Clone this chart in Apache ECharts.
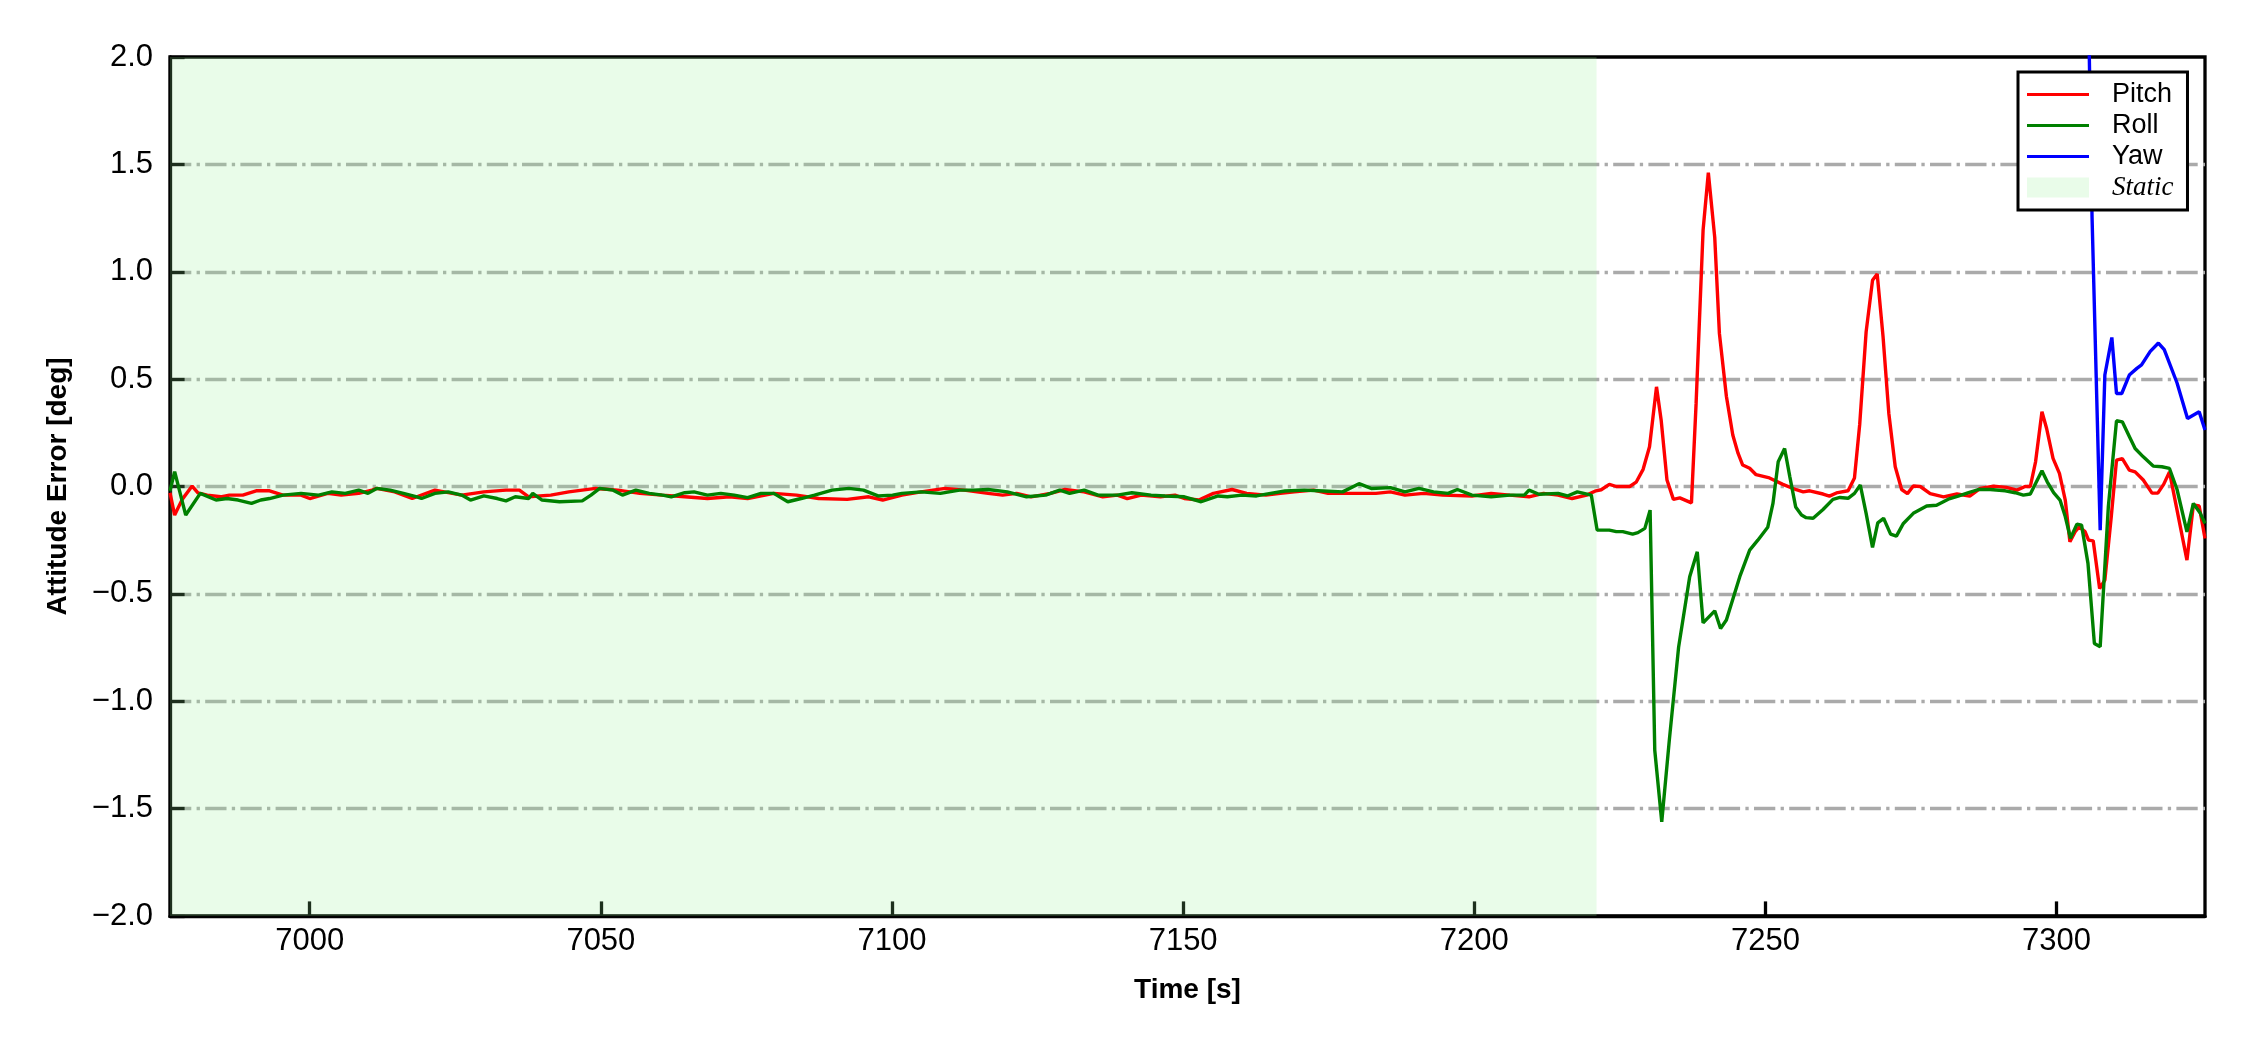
<!DOCTYPE html>
<html>
<head>
<meta charset="utf-8">
<script src="https://cdn.jsdelivr.net/npm/echarts@6/dist/echarts.min.js"></script>
<style>
html,body{margin:0;padding:0;background:#fff;}
#chart{width:2250px;height:1050px;}
</style>
</head>
<body>
<div id="chart"></div>
<script>
// ---- data ----
const xTicks = [7000, 7050, 7100, 7150, 7200, 7250, 7300];
const yTicks = [-2.0, -1.5, -1.0, -0.5, 0.0, 0.5, 1.0, 1.5, 2.0];
const staticStart = 6976;
const staticEnd = 7221;

const pitchTime = [6976.0,6976.8,6978.1,6979.8,6980.8,6982.4,6984.7,6986.2,6988.5,6990.8,6993.1,6995.4,6998.5,7000.0,7003.1,7005.4,7008.4,7010.7,7011.5,7014.6,7017.6,7021.5,7026.1,7029.9,7033.7,7036.0,7037.6,7041.4,7044.5,7049.1,7052.9,7056.7,7060.5,7064.4,7068.3,7072.1,7075.2,7079.7,7083.6,7087.4,7092.3,7096.0,7098.4,7101.7,7105.0,7109.1,7112.4,7116.5,7119.0,7121.4,7123.9,7127.2,7129.7,7133.0,7136.2,7138.7,7140.4,7142.8,7146.1,7148.6,7150.2,7152.7,7155.2,7158.4,7160.9,7164.2,7166.7,7169.1,7172.4,7174.9,7179.0,7183.1,7185.6,7188.1,7191.3,7194.6,7199.6,7202.9,7206.1,7209.4,7211.9,7214.4,7216.8,7219.3,7220.9,7221.8,7223.2,7224.4,7226.7,7227.8,7229.0,7230.1,7231.3,7232.1,7233.1,7234.2,7235.3,7237.3,7238.1,7239.3,7240.2,7241.3,7242.1,7243.3,7244.4,7245.3,7246.1,7247.3,7248.4,7250.7,7253.0,7255.3,7256.5,7257.6,7259.9,7261.0,7262.2,7264.2,7265.3,7266.2,7267.3,7268.4,7269.2,7270.2,7271.2,7272.3,7273.4,7274.4,7275.4,7276.6,7278.3,7280.6,7282.9,7285.1,7286.9,7289.2,7291.4,7293.2,7294.6,7295.5,7296.4,7297.5,7298.3,7299.4,7300.5,7301.5,7302.3,7303.2,7303.9,7304.9,7305.5,7306.3,7307.4,7308.3,7309.4,7310.3,7311.3,7312.5,7313.5,7314.9,7316.4,7317.4,7318.4,7319.4,7320.7,7322.4,7323.5,7324.5,7325.5];
const pitchErr = [-0.03,-0.133,-0.06,0.002,-0.03,-0.04,-0.048,-0.04,-0.04,-0.02,-0.02,-0.04,-0.04,-0.056,-0.032,-0.04,-0.032,-0.017,-0.009,-0.025,-0.056,-0.017,-0.04,-0.025,-0.017,-0.017,-0.048,-0.04,-0.025,-0.009,-0.017,-0.032,-0.04,-0.048,-0.056,-0.048,-0.056,-0.032,-0.04,-0.056,-0.06,-0.048,-0.063,-0.04,-0.025,-0.009,-0.017,-0.032,-0.04,-0.032,-0.048,-0.032,-0.014,-0.025,-0.048,-0.04,-0.056,-0.04,-0.048,-0.04,-0.056,-0.063,-0.032,-0.014,-0.032,-0.04,-0.032,-0.025,-0.017,-0.032,-0.032,-0.032,-0.025,-0.04,-0.032,-0.04,-0.044,-0.032,-0.04,-0.048,-0.032,-0.04,-0.056,-0.04,-0.02,-0.015,0.01,0.0,0.0,0.02,0.08,0.185,0.464,0.309,0.03,-0.06,-0.053,-0.076,0.387,1.194,1.461,1.16,0.713,0.42,0.24,0.155,0.1,0.085,0.055,0.04,0.01,-0.015,-0.025,-0.02,-0.035,-0.045,-0.03,-0.02,0.04,0.29,0.72,0.96,0.99,0.70,0.34,0.092,-0.014,-0.033,0.002,0.0,-0.033,-0.048,-0.035,-0.045,-0.009,0.002,-0.004,-0.017,0.0,0.0,0.115,0.348,0.27,0.131,0.061,-0.063,-0.257,-0.21,-0.188,-0.21,-0.25,-0.253,-0.475,-0.436,-0.141,0.123,0.13,0.076,0.068,0.03,-0.031,-0.031,0.01,0.068,-0.11,-0.343,-0.086,-0.091,-0.242];

const rollTime = [6976.0,6976.8,6978.7,6981.2,6983.9,6985.8,6987.7,6990.0,6991.6,6993.1,6995.4,6998.5,7001.5,7003.8,7006.1,7008.4,7010.0,7011.5,7013.8,7016.1,7018.4,7019.2,7021.5,7023.8,7026.1,7027.6,7029.9,7032.2,7033.7,7035.3,7037.6,7038.3,7039.9,7042.9,7046.8,7048.3,7049.8,7052.1,7053.7,7056.0,7058.3,7060.6,7062.1,7064.4,7066.0,7068.3,7070.6,7072.9,7075.2,7077.5,7079.7,7082.1,7084.4,7086.7,7089.7,7092.6,7095.1,7097.6,7100.1,7101.7,7105.0,7108.3,7111.6,7114.0,7116.5,7119.8,7123.1,7126.4,7128.8,7130.5,7133.0,7135.4,7138.7,7141.2,7144.5,7146.9,7150.2,7153.1,7156.0,7157.6,7160.1,7162.6,7165.0,7167.5,7170.8,7174.1,7177.4,7180.2,7182.3,7185.6,7188.1,7190.5,7193.0,7195.5,7197.1,7199.6,7202.9,7206.1,7208.6,7209.4,7211.1,7214.4,7216.0,7217.7,7220.1,7221.1,7223.2,7224.4,7225.5,7227.2,7228.1,7229.3,7230.2,7231.0,7232.2,7233.5,7235.1,7237.0,7238.3,7239.3,7241.3,7242.3,7243.3,7245.6,7247.3,7248.7,7250.4,7251.3,7252.2,7253.3,7254.2,7255.2,7256.2,7257.0,7258.2,7259.9,7261.6,7262.8,7264.2,7265.3,7266.3,7267.3,7268.4,7269.3,7270.3,7271.5,7272.5,7273.7,7275.4,7277.7,7279.4,7281.4,7283.1,7284.9,7286.6,7288.6,7291.2,7292.9,7294.3,7295.5,7296.4,7297.5,7298.4,7299.5,7300.6,7301.5,7302.4,7303.5,7304.3,7305.4,7306.5,7307.5,7308.9,7310.3,7311.3,7312.4,7313.5,7314.9,7316.6,7318.1,7319.4,7320.7,7322.4,7323.5,7324.7,7325.5];
const rollErr = [-0.02,0.069,-0.133,-0.032,-0.063,-0.056,-0.063,-0.079,-0.063,-0.056,-0.04,-0.032,-0.04,-0.025,-0.032,-0.017,-0.032,-0.009,-0.017,-0.032,-0.048,-0.056,-0.032,-0.025,-0.04,-0.063,-0.044,-0.056,-0.067,-0.048,-0.056,-0.032,-0.063,-0.071,-0.067,-0.04,-0.009,-0.017,-0.04,-0.017,-0.032,-0.04,-0.048,-0.029,-0.025,-0.04,-0.032,-0.04,-0.052,-0.032,-0.032,-0.071,-0.056,-0.04,-0.017,-0.009,-0.017,-0.044,-0.04,-0.032,-0.025,-0.032,-0.017,-0.017,-0.014,-0.025,-0.048,-0.04,-0.017,-0.032,-0.017,-0.04,-0.04,-0.029,-0.04,-0.044,-0.048,-0.071,-0.044,-0.048,-0.04,-0.044,-0.032,-0.021,-0.017,-0.021,-0.025,0.013,-0.009,-0.005,-0.025,-0.009,-0.025,-0.032,-0.014,-0.04,-0.048,-0.04,-0.04,-0.017,-0.036,-0.032,-0.044,-0.025,-0.04,-0.203,-0.203,-0.21,-0.21,-0.222,-0.215,-0.195,-0.11,-1.228,-1.562,-1.181,-0.747,-0.42,-0.304,-0.635,-0.579,-0.661,-0.622,-0.42,-0.296,-0.25,-0.19,-0.079,0.115,0.177,0.045,-0.095,-0.133,-0.145,-0.148,-0.107,-0.06,-0.051,-0.055,-0.032,0.007,-0.125,-0.284,-0.169,-0.148,-0.222,-0.231,-0.172,-0.125,-0.091,-0.087,-0.059,-0.045,-0.029,-0.014,-0.014,-0.02,-0.029,-0.04,-0.035,0.014,0.073,0.022,-0.029,-0.063,-0.14,-0.241,-0.175,-0.18,-0.358,-0.731,-0.746,-0.094,0.306,0.301,0.239,0.177,0.138,0.095,0.092,0.084,-0.014,-0.211,-0.079,-0.125,-0.172];

const yawTime = [7305.0,7306.1,7307.5,7308.3,7309.5,7310.3,7311.2,7312.5,7313.8,7314.6,7316.1,7317.5,7318.5,7320.7,7322.5,7324.5,7325.5];
const yawErr = [3.0,1.256,-0.203,0.519,0.694,0.433,0.433,0.519,0.55,0.566,0.629,0.668,0.637,0.482,0.317,0.348,0.263];

// ---- build ----
function pairs(t, v) { return t.map((x, i) => [x, v[i]]); }
const FONT = '"Liberation Sans", Arial, sans-serif';
const chart = echarts.init(document.getElementById('chart'), null, {renderer: 'canvas', width: 2250, height: 1050});

const LINE_ICON = 'path://M0,0H62V3H0Z';
const lineSeries = (name, color, t, v) => ({
  name, type: 'line', data: pairs(t, v), symbol: 'none', showSymbol: false,
  lineStyle: {color, width: 3.4}, itemStyle: {color}, clip: true, animation: false, z: 3
});

chart.setOption({
  backgroundColor: '#ffffff',
  animation: false,
  grid: {left: 170, right: 45, top: 57, bottom: 134, show: true, borderColor: '#000', borderWidth: 3.3, backgroundColor: 'transparent'},
  xAxis: {
    type: 'value', min: staticStart, max: 7325.5,
    name: 'Time [s]', nameLocation: 'middle', nameGap: 60,
    nameTextStyle: {fontFamily: FONT, fontWeight: 'bold', fontSize: 28, color: '#000'},
    axisLine: {show: true, onZero: false, lineStyle: {color: '#000', width: 3.3}},
    axisTick: {show: true, inside: true, length: 14.6, customValues: xTicks, lineStyle: {color: '#000', width: 3.3}},
    axisLabel: {customValues: xTicks, margin: 10, fontFamily: FONT, fontSize: 31, color: '#000', formatter: v => String(v)},
    splitLine: {show: false}
  },
  yAxis: {
    type: 'value', min: -2, max: 2, interval: 0.5,
    name: 'Attitude Error [deg]', nameLocation: 'middle', nameGap: 98,
    nameTextStyle: {fontFamily: FONT, fontWeight: 'bold', fontSize: 28, color: '#000'},
    axisLine: {show: true, onZero: false, lineStyle: {color: '#000', width: 3.3}},
    axisTick: {show: true, inside: true, length: 14.6, lineStyle: {color: '#000', width: 3.3}},
    axisLabel: {margin: 17, fontFamily: FONT, fontSize: 31, color: '#000',
      formatter: v => (v < 0 ? '\u2212' : '') + Math.abs(v).toFixed(1)},
    splitLine: {show: true, showMinLine: false, showMaxLine: false,
      lineStyle: {color: '#aaaaaa', width: 3.3, type: [21.3, 5.3, 3.3, 5.3]}}
  },
  legend: {
    orient: 'vertical', left: 2018, top: 72,
    padding: [9, 14, 9, 9], itemGap: 4, itemWidth: 62, itemHeight: 20,
    symbolKeepAspect: true,
    backgroundColor: '#fff', borderColor: '#000', borderWidth: 3, borderRadius: 0,
    textStyle: {fontFamily: FONT, fontSize: 27, color: '#000', padding: [0, 0, 0, 18],
      rich: {it: {fontFamily: '"Liberation Serif", "Times New Roman", serif', fontStyle: 'italic', fontSize: 27, color: '#000'}}},
    formatter: n => n === 'Static' ? '{it|Static}' : n,
    data: [
      {name: 'Pitch', icon: LINE_ICON}, {name: 'Roll', icon: LINE_ICON}, {name: 'Yaw', icon: LINE_ICON},
      {name: 'Static', icon: 'rect', itemStyle: {color: '#e9fce9'}}
    ]
  },
  series: [
    {
      name: 'Static', type: 'line', data: [], symbol: 'none',
      itemStyle: {color: '#e9fce9'}, lineStyle: {color: '#e9fce9'}, z: 1,
      markArea: {silent: true, itemStyle: {color: 'rgba(144,238,144,0.2)'},
        data: [[{xAxis: staticStart}, {xAxis: staticEnd}]]}
    },
    lineSeries('Pitch', '#ff0000', pitchTime, pitchErr),
    lineSeries('Roll', '#008000', rollTime, rollErr),
    lineSeries('Yaw', '#0000ff', yawTime, yawErr)
  ]
});
</script>
</body>
</html>
